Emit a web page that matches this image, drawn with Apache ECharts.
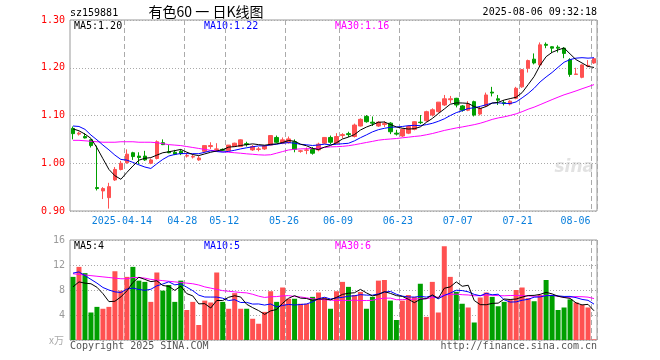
<!DOCTYPE html>
<html>
<head>
<meta charset="utf-8">
<script src="https://cdn.jsdelivr.net/npm/echarts@6/dist/echarts.min.js"></script>
<style>
html,body{margin:0;padding:0;background:#fff;}
#c{width:660px;height:360px;}
</style>
</head>
<body>
<div id="c"></div>
<script>
const dates = [
'2025-03-31','2025-04-01','2025-04-02','2025-04-03','2025-04-07','2025-04-08','2025-04-09','2025-04-10','2025-04-11','2025-04-14',
'2025-04-15','2025-04-16','2025-04-17','2025-04-18','2025-04-21','2025-04-22','2025-04-23','2025-04-24','2025-04-25','2025-04-28',
'2025-04-29','2025-04-30','2025-05-06','2025-05-07','2025-05-08','2025-05-09','2025-05-12','2025-05-13','2025-05-14','2025-05-15',
'2025-05-16','2025-05-19','2025-05-20','2025-05-21','2025-05-22','2025-05-23','2025-05-26','2025-05-27','2025-05-28','2025-05-29',
'2025-05-30','2025-06-03','2025-06-04','2025-06-05','2025-06-06','2025-06-09','2025-06-10','2025-06-11','2025-06-12','2025-06-13',
'2025-06-16','2025-06-17','2025-06-18','2025-06-19','2025-06-20','2025-06-23','2025-06-24','2025-06-25','2025-06-26','2025-06-27',
'2025-06-30','2025-07-01','2025-07-02','2025-07-03','2025-07-04','2025-07-07','2025-07-08','2025-07-09','2025-07-10','2025-07-11',
'2025-07-14','2025-07-15','2025-07-16','2025-07-17','2025-07-18','2025-07-21','2025-07-22','2025-07-23','2025-07-24','2025-07-25',
'2025-07-28','2025-07-29','2025-07-30','2025-07-31','2025-08-01','2025-08-04','2025-08-05','2025-08-06'
];
const labelDates = ['2025-04-14','2025-04-28','2025-05-12','2025-05-26','2025-06-09','2025-06-23','2025-07-07','2025-07-21','2025-08-06'];

const opens = [
1.073,1.061,1.056,1.049,0.949,0.942,0.928,0.965,0.987,1.001,
1.022,1.015,1.015,1.000,1.010,1.043,1.024,1.023,1.025,1.015,
1.013,1.007,1.025,1.035,1.029,1.029,1.026,1.035,1.035,1.041,
1.028,1.029,1.030,1.038,1.054,1.042,1.043,1.045,1.025,1.027,
1.029,1.028,1.042,1.054,1.042,1.058,1.062,1.056,1.078,1.098,
1.086,1.078,1.081,1.084,1.063,1.057,1.063,1.071,1.086,1.089,
1.101,1.108,1.122,1.133,1.136,1.120,1.111,1.129,1.103,1.120,
1.149,1.135,1.127,1.124,1.136,1.160,1.199,1.218,1.206,1.249,
1.244,1.243,1.241,1.217,1.186,1.180,1.203,1.210
];
const closes = [
1.062,1.063,1.053,1.037,0.947,0.947,0.951,0.987,1.000,1.019,
1.014,1.012,1.007,1.007,1.045,1.039,1.022,1.019,1.020,1.016,
1.014,1.011,1.037,1.037,1.030,1.027,1.038,1.042,1.049,1.039,
1.035,1.030,1.036,1.058,1.044,1.049,1.051,1.029,1.026,1.028,
1.021,1.040,1.054,1.044,1.056,1.060,1.060,1.080,1.092,1.087,
1.084,1.086,1.083,1.066,1.061,1.071,1.077,1.087,1.085,1.108,
1.112,1.128,1.135,1.135,1.122,1.111,1.124,1.101,1.115,1.143,
1.147,1.132,1.125,1.130,1.157,1.196,1.215,1.210,1.248,1.247,
1.241,1.241,1.230,1.186,1.187,1.206,1.205,1.219
];
const lows = [
1.050,1.058,1.052,1.033,0.943,0.925,0.905,0.963,0.985,0.999,
1.007,0.998,1.005,0.998,1.008,1.038,1.021,1.017,1.017,1.012,
1.010,1.005,1.022,1.030,1.024,1.025,1.025,1.034,1.034,1.035,
1.026,1.025,1.028,1.037,1.042,1.040,1.041,1.023,1.022,1.019,
1.018,1.025,1.040,1.040,1.040,1.052,1.055,1.054,1.077,1.085,
1.078,1.076,1.076,1.061,1.058,1.055,1.061,1.069,1.082,1.087,
1.098,1.106,1.120,1.126,1.117,1.108,1.109,1.098,1.100,1.118,
1.140,1.122,1.121,1.121,1.134,1.158,1.190,1.207,1.202,1.241,
1.231,1.232,1.220,1.181,1.185,1.178,1.201,1.208
];
const highs = [
1.077,1.066,1.063,1.050,1.037,0.950,0.959,0.992,1.005,1.029,
1.024,1.023,1.026,1.010,1.048,1.050,1.038,1.028,1.029,1.022,
1.018,1.015,1.037,1.044,1.042,1.031,1.038,1.043,1.050,1.045,
1.038,1.034,1.038,1.058,1.058,1.054,1.056,1.050,1.028,1.033,
1.034,1.043,1.055,1.058,1.063,1.063,1.066,1.083,1.094,1.101,
1.098,1.088,1.088,1.086,1.070,1.073,1.080,1.088,1.101,1.110,
1.115,1.128,1.143,1.141,1.137,1.122,1.130,1.131,1.118,1.148,
1.160,1.143,1.132,1.132,1.160,1.197,1.217,1.230,1.253,1.253,
1.245,1.247,1.243,1.220,1.200,1.207,1.216,1.221
];
const volumes = [
10.1,11.7,10.7,4.4,5.3,5.0,5.3,11.0,7.9,10.1,
11.7,9.5,9.3,6.1,10.8,7.9,8.8,6.1,9.5,4.8,
6.1,2.4,6.3,6.0,10.8,6.1,5.0,7.5,5.0,5.0,
3.4,2.6,4.5,7.8,6.1,8.4,6.6,6.6,5.8,5.8,
6.9,7.6,6.8,5.0,7.8,9.3,8.5,7.2,7.7,5.0,
6.9,9.5,9.6,6.3,3.2,6.3,7.2,6.9,9.0,3.7,
9.3,4.4,15.0,10.1,7.7,5.8,5.2,2.8,6.8,7.6,
6.9,5.4,6.1,6.4,8.0,8.4,6.7,6.2,7.2,9.6,
7.2,4.8,5.2,6.5,6.0,5.6,5.2,0.1
];

const priceMA5Head = [1.072,1.068,1.061,1.052];
const priceMA10Head = [1.078,1.077,1.071,1.059,1.049,1.038,1.028,1.017,1.008];
const priceMA30Head = [1.048,1.048,1.047,1.046,1.045,1.044,1.044,1.044,1.045,1.045,
1.045,1.044,1.044,1.044,1.043,1.041,1.039,1.038,1.037,1.035,
1.033,1.031,1.029,1.027,1.026,1.024,1.023,1.022,1.021];
const volMA5Head = [8.5,9.3,9.1,9.0];
const volMA10Head = [10.7,10.9,10.3,9.7,9.1,8.4,8.0,7.7,7.6];
const volMA30Head = [10.6,10.5,10.4,10.3,10.2,10.1,10.0,9.9,9.8,9.8,
10.0,10.0,9.9,9.7,9.6,9.5,9.4,9.3,9.2,9.1,
9.0,8.8,8.5,8.3,8.1,7.9,7.8,7.7,7.6];

const legendPrice = ['MA5:1.20','MA10:1.22','MA30:1.16'];
const legendVol = ['MA5:4','MA10:5','MA30:6'];

function movingAvg(vals, n, head){
  return vals.map(function(v,i){
    if(i < n-1) return head[i];
    let s=0; for(let k=i-n+1;k<=i;k++) s+=vals[k];
    return +(s/n).toFixed(4);
  });
}

const UP='#ff5151', DOWN='#009f00';
const MONO='"DejaVu Sans Mono", monospace';
const kData = dates.map((d,i)=>[opens[i],closes[i],lows[i],highs[i]]);
const volData = volumes.map((v,i)=>({value:v,itemStyle:{color: closes[i]>=opens[i]?UP:DOWN}}));
const labelIdx = labelDates.map(d=>dates.indexOf(d));
const showAt = function(index){ return labelIdx.indexOf(index)>=0; };

const chart = echarts.init(document.getElementById('c'), null, {renderer:'canvas'});
const lineS = (name, data, color, xi) => ({
  name, type:'line', data, xAxisIndex:xi, yAxisIndex:xi, showSymbol:false, symbol:'none',
  lineStyle:{color, width:1}, itemStyle:{color}, silent:true, z:5
});
const gridLineStyle = {color:'#aaa', width:1, type:[5,3]};

chart.setOption({
  animation:false,
  backgroundColor:'#fff',
  grid:[
    {left:70, top:20, width:527, height:191, show:true, borderColor:'#999', borderWidth:1, backgroundColor:'transparent'},
    {left:70, top:240, width:527, height:100, show:true, borderColor:'#999', borderWidth:1, backgroundColor:'transparent'}
  ],
  xAxis:[
    {type:'category', gridIndex:0, data:dates, boundaryGap:true,
     axisLine:{show:false}, axisTick:{show:false},
     axisLabel:{show:true, interval:showAt, margin:5, color:'#0a7fdc', fontFamily:MONO, fontSize:10,
       formatter:function(v,i){
         if(i===labelIdx[labelIdx.length-1]) return '{e|'+v.slice(5)+'}';
         if(i===labelIdx[0]) return '{f|'+v+'}';
         return '{n|'+v.slice(5)+'}';
       },
       rich:{
         n:{padding:[0,9,0,0], color:'#0a7fdc', fontFamily:MONO, fontSize:10},
         f:{padding:[0,10,0,0], color:'#0a7fdc', fontFamily:MONO, fontSize:10},
         e:{padding:[0,37,0,0], color:'#0a7fdc', fontFamily:MONO, fontSize:10}
       }},
     splitLine:{show:true, interval:showAt, lineStyle:gridLineStyle}},
    {type:'category', gridIndex:1, data:dates, boundaryGap:true,
     axisLine:{show:false}, axisTick:{show:false}, axisLabel:{show:false},
     splitLine:{show:true, interval:showAt, lineStyle:gridLineStyle}}
  ],
  yAxis:[
    {type:'value', gridIndex:0, min:0.9, max:1.3, interval:0.1, scale:true,
     axisLine:{show:false}, axisTick:{show:false},
     axisLabel:{color:'#ff0000', fontFamily:MONO, fontSize:10, margin:5, formatter:v=>v.toFixed(2)},
     splitLine:{show:true, lineStyle:{color:'#aaa', width:1, type:[1,2]}}},
    {type:'value', gridIndex:1, min:0, max:16, interval:4,
     axisLine:{show:false}, axisTick:{show:false},
     axisLabel:{color:'#999', fontFamily:MONO, fontSize:10, margin:5, formatter:v=>v===0?'':String(v)},
     splitLine:{show:true, lineStyle:{color:'#aaa', width:1, type:[1,2]}}}
  ],
  series:[
    {name:'K', type:'candlestick', data:kData, xAxisIndex:0, yAxisIndex:0, barWidth:4,
     itemStyle:{color:UP, color0:DOWN, borderColor:UP, borderColor0:DOWN, borderWidth:1}, silent:true, z:3},
    lineS('MA30', movingAvg(closes,30,priceMA30Head), '#ff00ff', 0),
    lineS('MA10', movingAvg(closes,10,priceMA10Head), '#0000ff', 0),
    lineS('MA5', movingAvg(closes,5,priceMA5Head), '#000000', 0),
    {name:'VOL', type:'bar', data:volData, xAxisIndex:1, yAxisIndex:1, barWidth:5, silent:true, z:3},
    lineS('VMA30', movingAvg(volumes,30,volMA30Head), '#ff00ff', 1),
    lineS('VMA10', movingAvg(volumes,10,volMA10Head), '#0000ff', 1),
    lineS('VMA5', movingAvg(volumes,5,volMA5Head), '#000000', 1)
  ],
  graphic:[
    {type:'text', silent:true, style:{x:70, y:13, text:'sz159881', font:'10px '+MONO, fill:'#000', textAlign:'left', textVerticalAlign:'middle'}},
    {type:'text', silent:true, style:{x:206, y:12, text:'有色60 一 日K线图', font:'14px "Noto Sans CJK SC"', fill:'#000', textAlign:'center', textVerticalAlign:'middle'}},
    {type:'text', silent:true, style:{x:597, y:12.5, text:'2025-08-06 09:32:18', font:'10px '+MONO, fill:'#000', textAlign:'right', textVerticalAlign:'middle'}},
    {type:'text', silent:true, style:{x:74, y:26.5, text:legendPrice[0], font:'10px '+MONO, fill:'#000', textAlign:'left', textVerticalAlign:'middle'}},
    {type:'text', silent:true, style:{x:204, y:26.5, text:legendPrice[1], font:'10px '+MONO, fill:'#0000ff', textAlign:'left', textVerticalAlign:'middle'}},
    {type:'text', silent:true, style:{x:335, y:26.5, text:legendPrice[2], font:'10px '+MONO, fill:'#ff00ff', textAlign:'left', textVerticalAlign:'middle'}},
    {type:'text', silent:true, style:{x:74, y:246.5, text:legendVol[0], font:'10px '+MONO, fill:'#000', textAlign:'left', textVerticalAlign:'middle'}},
    {type:'text', silent:true, style:{x:204, y:246.5, text:legendVol[1], font:'10px '+MONO, fill:'#0000ff', textAlign:'left', textVerticalAlign:'middle'}},
    {type:'text', silent:true, style:{x:335, y:246.5, text:legendVol[2], font:'10px '+MONO, fill:'#ff00ff', textAlign:'left', textVerticalAlign:'middle'}},
    {type:'text', silent:true, style:{x:64, y:340, text:'x万', font:'10px "Noto Sans CJK SC"', fill:'#aaa', textAlign:'right', textVerticalAlign:'middle'}},
    {type:'text', silent:true, style:{x:70, y:346, text:'Copyright 2025 SINA.COM', font:'10px '+MONO, fill:'#555', textAlign:'left', textVerticalAlign:'middle'}},
    {type:'text', silent:true, style:{x:597, y:346, text:'http://finance.sina.com.cn', font:'10px '+MONO, fill:'#555', textAlign:'right', textVerticalAlign:'middle'}},
    {type:'text', silent:true, z:0, style:{x:594, y:168, text:'sina', font:'italic bold 17px "DejaVu Sans"', fill:'#e2e2e2', textAlign:'right', textVerticalAlign:'middle'}}
  ]
});
</script>
</body>
</html>
